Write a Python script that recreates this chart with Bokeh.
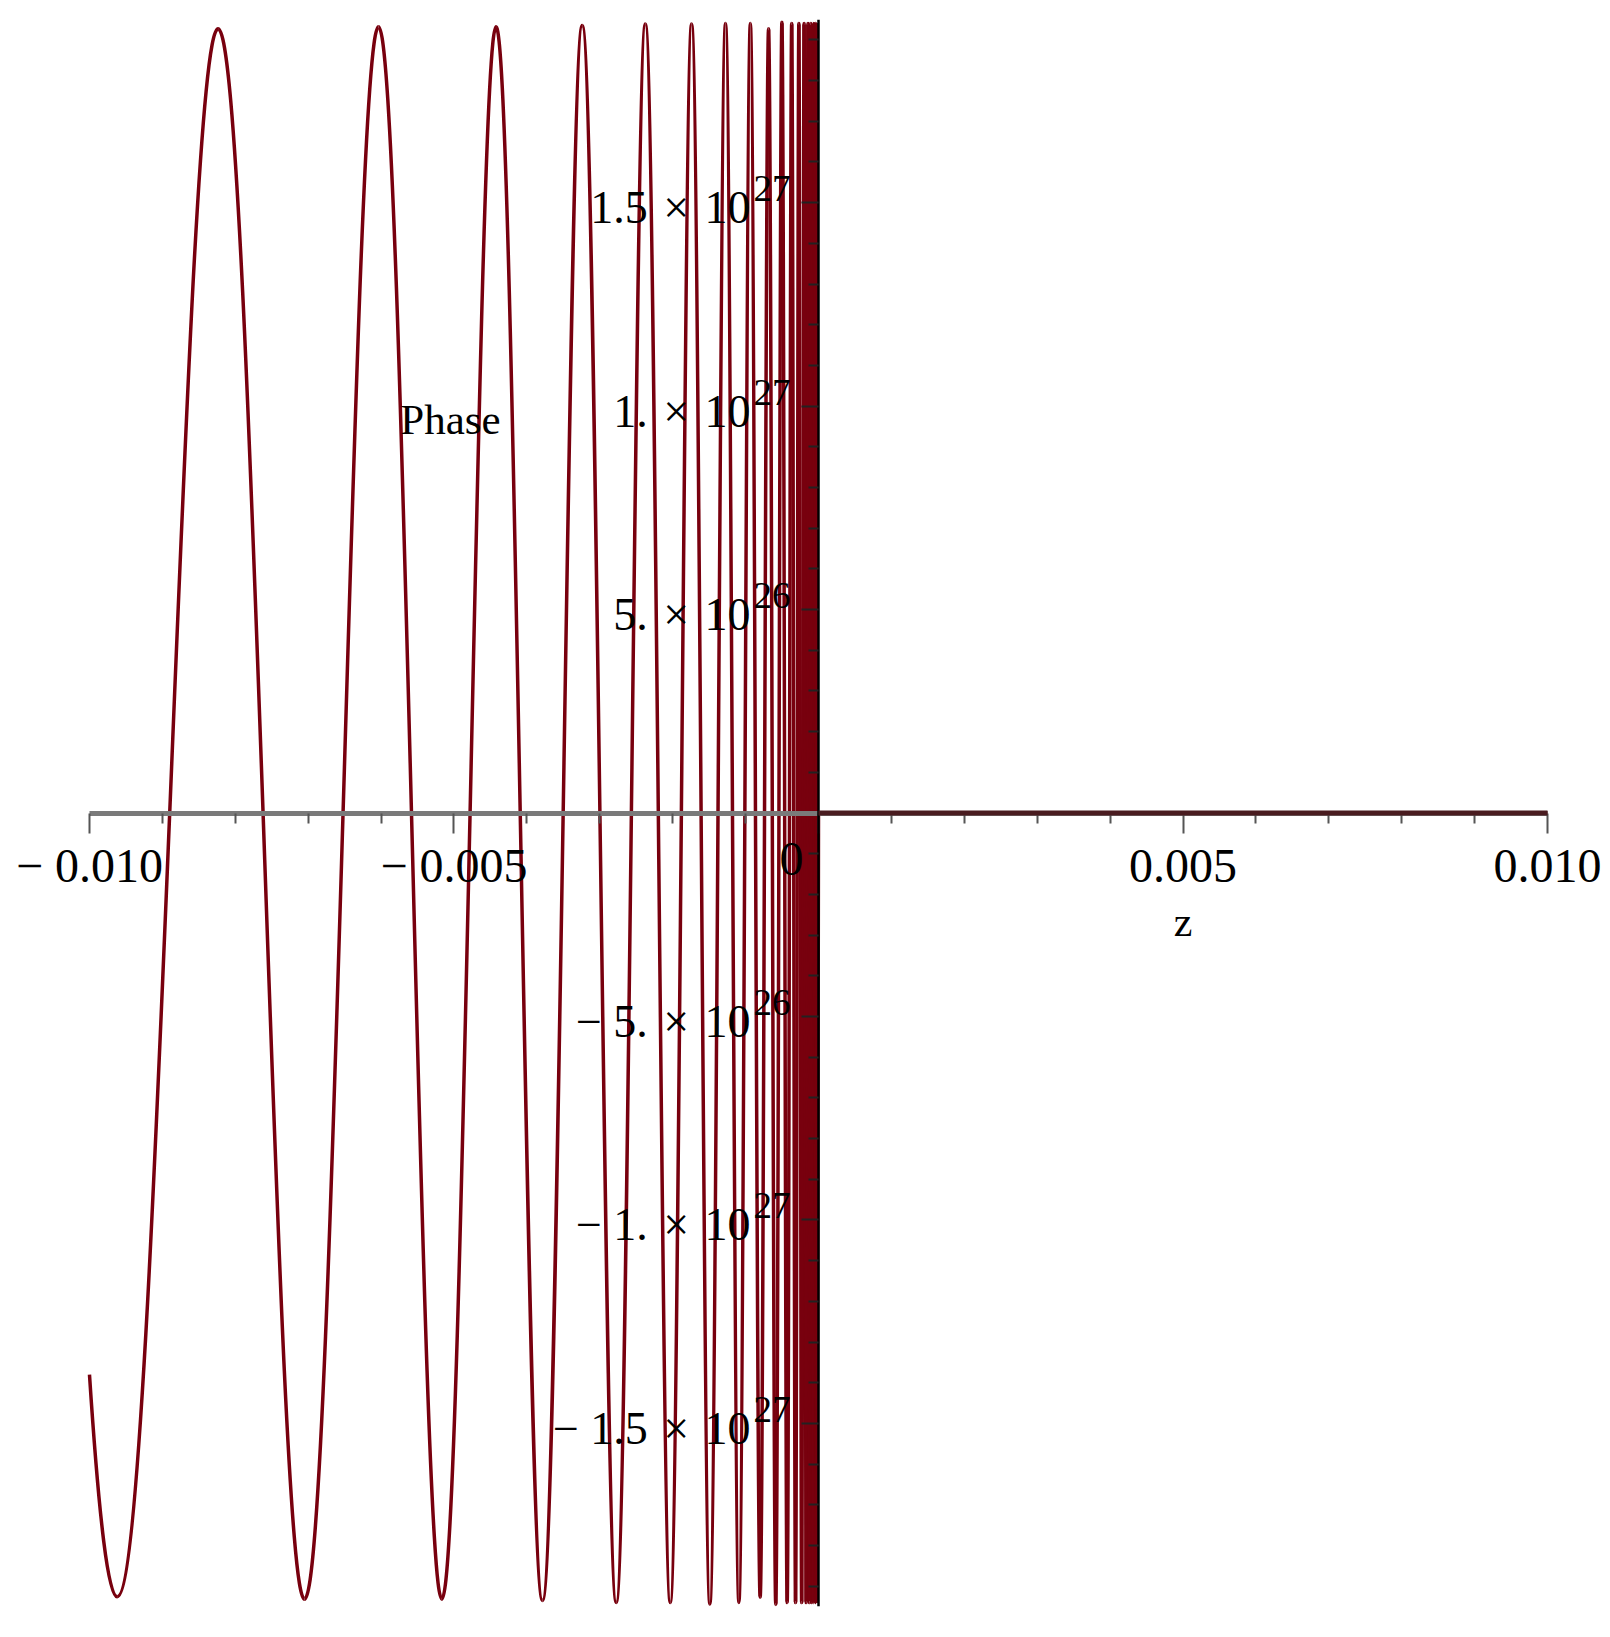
import numpy as np
from bokeh.plotting import figure
from bokeh.models import (LinearAxis, FixedTicker, CustomJSTickFormatter,
                          Range1d, Label, ColumnDataSource)
from bokeh.core.properties import value
from bokeh.embed import file_html
from bokeh.resources import INLINE

# ---------------- data ----------------
# starting point of the curve (left edge of the plot)
start_z = [-0.010]
start_phase = [-1.38e27]

# successive extrema (troughs / peaks) of the oscillation, left to right
extrema_z = [-0.009621, -0.0082361, -0.0070505, -0.0060356, -0.0051668,
             -0.0044230, -0.0037863, -0.0032413, -0.0027747, -0.0023753,
             -0.0020334, -0.0017407, -0.0014901, -0.0012756, -0.0010920,
             -0.00093481, -0.00080025, -0.00068505, -0.00058644, -0.00050202,
             -0.00042976, -0.00036790, -0.00031494, -0.00026960, -0.00023079,
             -0.00019757, -0.00016913, -0.00014478, -0.00012394, -0.00010610,
             -0.000090827, -0.000077752, -0.000066560, -0.000056979,
             -0.000048777, -0.000041756, -0.000035745, -0.000030600,
             -0.000026195, -0.000022424, -0.000019196]
extrema_phase = [-1.926e27, 1.927e27, -1.932e27, 1.932e27, -1.932e27,
                 1.932e27, -1.935e27, 1.935e27, -1.940e27, 1.939e27,
                 -1.940e27, 1.939e27, -1.944e27, 1.940e27, -1.940e27,
                 1.940e27, -1.927e27, 1.927e27, -1.945e27, 1.943e27,
                 -1.94e27, 1.94e27, -1.94e27, 1.94e27, -1.94e27,
                 1.94e27, -1.94e27, 1.94e27, -1.94e27, 1.94e27,
                 -1.94e27, 1.94e27, -1.94e27, 1.94e27, -1.94e27,
                 1.94e27, -1.94e27, 1.94e27, -1.94e27, 1.94e27,
                 -1.94e27]

# flat part of the curve (z >= 0)
tail_z = [0.0, 0.010]
tail_phase = [0.0, 0.0]

# axes
x_bounds = [-0.010, 0.010]
y_range_vals = [-1.95e27, 1.95e27]
x_major_ticks = [-0.010, -0.005, 0.0, 0.005, 0.010]
x_tick_labels = ["\u2212 0.010", "\u2212 0.005", "", "0.005", "0.010"]
x_minor_ticks = [-0.009, -0.008, -0.007, -0.006, -0.004, -0.003, -0.002, -0.001,
                 0.001, 0.002, 0.003, 0.004, 0.006, 0.007, 0.008, 0.009]
y_major_ticks = [-1.5e27, -1.0e27, -5e26, 5e26, 1.0e27, 1.5e27]
y_tick_mantissa = ["\u2212 1.5\u2004\u00d7\u200410", "\u2212 1.\u2004\u00d7\u200410",
                   "\u2212 5.\u2004\u00d7\u200410", "5.\u2004\u00d7\u200410",
                   "1.\u2004\u00d7\u200410", "1.5\u2004\u00d7\u200410"]
y_tick_exponent = ["27", "27", "26", "26", "27", "27"]
y_minor_ticks = [k * 1e26 for k in range(-19, 20) if k % 5 != 0]

x_label = "z"
y_label = "Phase"

# ---------------- styling / layout ----------------
CURVE = "#78000E"
FONT = "Liberation Serif"
K = 0.3634            # bezier handle fraction for a sinusoidal half-wave
PX_X = 72920.0        # screen px per unit z
FRAME_H = 1587
PAD_L, PAD_R = 78, 58  # room for the end tick labels inside the frame
x_range_vals = [x_bounds[0] - PAD_L / PX_X, x_bounds[1] + PAD_R / PX_X]
FRAME_W = int(round((x_range_vals[1] - x_range_vals[0]) * PX_X))
px_per_y = FRAME_H / (y_range_vals[1] - y_range_vals[0])

p = figure(frame_width=FRAME_W, frame_height=FRAME_H,
           min_border_left=11, min_border_right=0,
           min_border_top=19, min_border_bottom=20,
           x_range=Range1d(*x_range_vals), y_range=Range1d(*y_range_vals),
           x_axis_location=None, y_axis_location=None,
           output_backend="svg", toolbar_location=None,
           background_fill_color="white", border_fill_color="white")
p.outline_line_color = None
p.xgrid.visible = False
p.ygrid.visible = False

# ---------------- curve ----------------
ez = np.array(extrema_z)
ep = np.array(extrema_phase)
x0, x1 = ez[:-1], ez[1:]
d = x1 - x0
s = np.abs(x0) + np.abs(x1)
w0 = 2 * np.abs(x0) / s
w1 = 2 * np.abs(x1) / s
seg = ColumnDataSource(dict(x0=x0, y0=ep[:-1], x1=x1, y1=ep[1:],
                            cx0=x0 + K * d * w0, cy0=ep[:-1],
                            cx1=x1 - K * d * w1, cy1=ep[1:]))
p.bezier(x0="x0", y0="y0", x1="x1", y1="y1", cx0="cx0", cy0="cy0",
         cx1="cx1", cy1="cy1", source=seg, line_color=CURVE, line_width=3.5)

first = ColumnDataSource(dict(x0=start_z, y0=start_phase,
                              x1=[extrema_z[0]], y1=[extrema_phase[0]],
                              cx=[start_z[0] + 0.53 * (extrema_z[0] - start_z[0])],
                              cy=[extrema_phase[0]]))
p.quadratic(x0="x0", y0="y0", x1="x1", y1="y1", cx="cx", cy="cy",
            source=first, line_color=CURVE, line_width=3.5)

p.line([extrema_z[-1]] + tail_z, [extrema_phase[-1]] + tail_phase,
       line_color=CURVE, line_width=3.5)

# ---------------- axes crossing at the origin ----------------
xfmt = CustomJSTickFormatter(args=dict(mt=x_major_ticks, ml=x_tick_labels), code="""
    for (let i = 0; i < mt.length; i++) {
        if (Math.abs(mt[i] - tick) < 1e-9) { return ml[i]; }
    }
    return "";
""")
xaxis = LinearAxis(fixed_location=0, bounds=tuple(x_bounds),
                   ticker=FixedTicker(ticks=x_major_ticks, minor_ticks=x_minor_ticks),
                   formatter=xfmt)
xaxis.axis_line_color = "#7a7a7a"
xaxis.axis_line_width = 5
xaxis.major_tick_out = 20
xaxis.major_tick_in = 0
xaxis.minor_tick_out = 10
xaxis.minor_tick_in = 0
xaxis.major_tick_line_color = "#555555"
xaxis.minor_tick_line_color = "#555555"
xaxis.major_tick_line_width = 2
xaxis.minor_tick_line_width = 2
xaxis.major_label_text_font = FONT
xaxis.major_label_text_font_size = "48px"
xaxis.major_label_text_color = "black"
xaxis.major_label_standoff = 6
p.add_layout(xaxis, "below")

yfmt = CustomJSTickFormatter(code="return '';")
yaxis = LinearAxis(fixed_location=0,
                   ticker=FixedTicker(ticks=y_major_ticks, minor_ticks=y_minor_ticks),
                   formatter=yfmt)
yaxis.axis_line_color = "black"
yaxis.axis_line_width = 2.5
yaxis.major_tick_out = 17
yaxis.major_tick_in = 0
yaxis.minor_tick_out = 10
yaxis.minor_tick_in = 0
yaxis.major_tick_line_color = "#222222"
yaxis.minor_tick_line_color = "#222222"
yaxis.major_tick_line_width = 2
yaxis.minor_tick_line_width = 2
p.add_layout(yaxis, "left")

# flat part of the curve drawn over the axis line
p.line(tail_z, tail_phase, line_color="#4a1c20", line_width=5, level="overlay")

# y tick labels (mantissa x 10 with raised exponent)
ylab = ColumnDataSource(dict(x=[0.0] * len(y_major_ticks), y=y_major_ticks,
                             m=y_tick_mantissa, e=y_tick_exponent))
p.text(x="x", y="y", text="m", source=ylab, x_offset=-68, y_offset=5,
       text_align="right", text_baseline="alphabetic",
       text_font=value(FONT), text_font_size="46px", text_color="black",
       level="overlay")
p.text(x="x", y="y", text="e", source=ylab, x_offset=-65, y_offset=-14,
       text_align="left", text_baseline="alphabetic",
       text_font=value(FONT), text_font_size="37px", text_color="black",
       level="overlay")

# origin label, axis titles
p.add_layout(Label(x=0.0, y=-46 / px_per_y, text="0", x_offset=-15,
                   text_align="right", text_baseline="alphabetic",
                   text_font=FONT, text_font_size="48px", text_color="black"))
p.add_layout(Label(x=0.005, y=-109 / px_per_y, text=x_label,
                   text_align="center", text_baseline="alphabetic",
                   text_font=FONT, text_font_size="42px", text_color="black"))
p.add_layout(Label(x=-0.005736, y=394 / px_per_y, text=y_label,
                   text_align="left", text_baseline="alphabetic",
                   text_font=FONT, text_font_size="43px", text_color="black"))

open("out.html", "w").write(file_html(p, INLINE))
